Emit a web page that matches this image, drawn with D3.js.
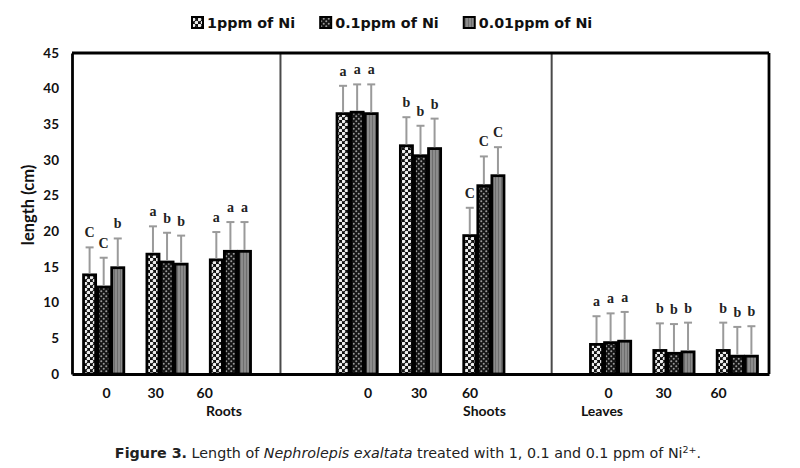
<!DOCTYPE html>
<html>
<head>
<meta charset="utf-8">
<script src="https://cdn.jsdelivr.net/npm/d3@7"></script>
<style>
  html, body { margin: 0; padding: 0; background: #fff; }
  svg { display: block; }
</style>
</head>
<body>
<svg id="chart" width="800" height="468"></svg>
<script>
// ---------- DATA ----------
const sections = ["Roots", "Shoots", "Leaves"];
const times = ["0", "30", "60"];
const seriesNames = ["1ppm of Ni", "0.1ppm of Ni", "0.01ppm of Ni"];
// order: Roots 0,30,60 | Shoots 0,30,60 | Leaves 0,30,60
const mean1 = [13.9, 16.8, 16.0, 36.5, 32.0, 19.4, 4.15, 3.3, 3.3];
const mean2 = [12.2, 15.7, 17.2, 36.7, 30.6, 26.4, 4.4, 2.9, 2.5];
const mean3 = [14.9, 15.4, 17.2, 36.5, 31.6, 27.8, 4.6, 3.1, 2.5];
const sd1 = [3.85, 3.9, 3.9, 3.9, 4.0, 3.9, 3.95, 3.8, 3.9];
const sd2 = [4.1, 4.1, 4.1, 3.9, 4.2, 4.1, 4.1, 4.1, 4.1];
const sd3 = [4.1, 4.0, 4.1, 4.1, 4.2, 4.0, 4.1, 4.1, 4.2];
const letters1 = ["C", "a", "a", "a", "b", "C", "a", "b", "b"];
const letters2 = ["C", "b", "a", "a", "b", "C", "a", "b", "b"];
const letters3 = ["b", "b", "a", "a", "b", "C", "a", "b", "b"];
const yTicks = [0, 5, 10, 15, 20, 25, 30, 35, 40, 45];
const yLabel = "length (cm)";

// ---------- LAYOUT ----------
const svg = d3.select("#chart");
const plot = { left: 72, right: 769, top: 53, bottom: 374 };

// slots: 3 times per section, with an empty slot between sections
const slots = [];
sections.forEach((s, si) => {
  times.forEach(t => slots.push(s + "|" + t));
  if (si < sections.length - 1) slots.push("gap" + si);
});

const x = d3.scaleBand().domain(slots).range([plot.left, plot.right]).padding(0);
const bw = x.bandwidth();
const xs = d3.scaleBand().domain(seriesNames).range([bw / 6, bw * 5 / 6]).padding(0);
const y = d3.scaleLinear().domain([0, 45]).range([plot.bottom, plot.top]);

// ---------- PATTERNS ----------
const defs = svg.append("defs");
const p1 = defs.append("pattern").attr("id", "pat1").attr("patternUnits", "userSpaceOnUse")
  .attr("width", 6).attr("height", 6);
p1.append("rect").attr("width", 6).attr("height", 6).attr("fill", "#111");
p1.append("circle").attr("cx", 1.5).attr("cy", 1.5).attr("r", 1.8).attr("fill", "#eeeeee");
p1.append("circle").attr("cx", 4.5).attr("cy", 4.5).attr("r", 1.8).attr("fill", "#eeeeee");

const p2 = defs.append("pattern").attr("id", "pat2").attr("patternUnits", "userSpaceOnUse")
  .attr("width", 5).attr("height", 5);
p2.append("rect").attr("width", 5).attr("height", 5).attr("fill", "#151515");
p2.append("circle").attr("cx", 1.25).attr("cy", 1.25).attr("r", 1.0).attr("fill", "#9a9a9a");
p2.append("circle").attr("cx", 3.75).attr("cy", 3.75).attr("r", 1.0).attr("fill", "#9a9a9a");

const p3 = defs.append("pattern").attr("id", "pat3").attr("patternUnits", "userSpaceOnUse")
  .attr("width", 3).attr("height", 3);
p3.append("rect").attr("width", 3).attr("height", 3).attr("fill", "#8c8c8c");
p3.append("rect").attr("x", 0).attr("width", 1).attr("height", 3).attr("fill", "#6e6e6e");

const fills = ["url(#pat1)", "url(#pat2)", "url(#pat3)"];
const means = [mean1, mean2, mean3];
const sds = [sd1, sd2, sd3];
const letters = [letters1, letters2, letters3];

// ---------- DATA ROWS ----------
const rows = [];
sections.forEach((s, si) => {
  times.forEach((t, ti) => {
    const idx = si * 3 + ti;
    seriesNames.forEach((n, k) => {
      rows.push({ slot: s + "|" + t, series: n, k: k, v: means[k][idx], sd: sds[k][idx], letter: letters[k][idx] });
    });
  });
});

// ---------- FRAME / DIVIDERS ----------
const dividerFrac = [0.29, 0.57];
["gap0", "gap1"].forEach((g, i) => {
  svg.append("line")
    .attr("x1", x(g) + bw * dividerFrac[i]).attr("x2", x(g) + bw * dividerFrac[i])
    .attr("y1", plot.top).attr("y2", plot.bottom)
    .attr("stroke", "#4a4a4a").attr("stroke-width", 2);
});

// ---------- BARS ----------
const barG = svg.append("g");
barG.selectAll("rect.bar").data(rows).join("rect")
  .attr("class", "bar")
  .attr("x", d => x(d.slot) + xs(d.series) + 1)
  .attr("width", xs.bandwidth() - 2)
  .attr("y", d => y(d.v))
  .attr("height", d => y(0) - y(d.v))
  .attr("fill", d => fills[d.k])
  .attr("stroke", "#000").attr("stroke-width", 2.8);

// ---------- ERROR BARS ----------
const eg = svg.append("g").attr("stroke", "#9a9a9a").attr("stroke-width", 2);
eg.selectAll("line.v").data(rows).join("line")
  .attr("class", "v")
  .attr("x1", d => x(d.slot) + xs(d.series) + xs.bandwidth() / 2)
  .attr("x2", d => x(d.slot) + xs(d.series) + xs.bandwidth() / 2)
  .attr("y1", d => y(d.v) - 1.4)
  .attr("y2", d => y(d.v + d.sd));
eg.selectAll("line.c").data(rows).join("line")
  .attr("class", "c")
  .attr("x1", d => x(d.slot) + xs(d.series) + xs.bandwidth() / 2 - 4)
  .attr("x2", d => x(d.slot) + xs(d.series) + xs.bandwidth() / 2 + 4)
  .attr("y1", d => y(d.v + d.sd))
  .attr("y2", d => y(d.v + d.sd));

// ---------- SIGNIFICANCE LETTERS ----------
svg.append("g").selectAll("text").data(rows).join("text")
  .attr("x", d => x(d.slot) + xs(d.series) + xs.bandwidth() / 2)
  .attr("y", d => y(d.v + d.sd) - 10)
  .attr("text-anchor", "middle")
  .attr("font-family", "Liberation Serif, DejaVu Serif, serif")
  .attr("font-weight", "bold")
  .attr("font-size", 14)
  .attr("fill", "#222")
  .text(d => d.letter);

// ---------- AXES FRAME ----------
const frame = svg.append("g").attr("stroke", "#000").attr("stroke-width", 2.8).attr("fill", "none");
frame.append("line").attr("x1", plot.left).attr("x2", plot.right).attr("y1", plot.top).attr("y2", plot.top);
frame.append("line").attr("x1", plot.right).attr("x2", plot.right).attr("y1", plot.top).attr("y2", plot.bottom);

// Y axis
const yAxis = svg.append("g").attr("transform", `translate(${plot.left},0)`)
  .call(d3.axisLeft(y).tickValues(yTicks).tickSize(0).tickPadding(13));
yAxis.select(".domain").attr("stroke", "#000").attr("stroke-width", 2.8);
yAxis.selectAll("text")
  .attr("font-family", "Lato, sans-serif").attr("font-weight", "bold")
  .attr("font-size", 13.5).attr("fill", "#111");

// X axis line
const xAxis = svg.append("g").attr("transform", `translate(0,${plot.bottom})`)
  .call(d3.axisBottom(x).tickValues([]).tickSize(0).tickSizeOuter(0));
xAxis.select(".domain").attr("stroke", "#000").attr("stroke-width", 2.8);

// X tick labels (time) per section and section names
const timeLabelOffset = [3, 11, -2];
const timeLabelStep = [49, 51, 55];
const sectionLabelOffset = [57, 64, -72];
sections.forEach((s, si) => {
  const c0 = x(s + "|" + times[0]) + bw / 2;
  times.forEach((t, ti) => {
    svg.append("text")
      .attr("x", c0 + timeLabelOffset[si] + ti * timeLabelStep[si])
      .attr("y", 398)
      .attr("text-anchor", "middle")
      .attr("font-family", "Lato, sans-serif").attr("font-weight", "bold")
      .attr("font-size", 14).attr("fill", "#111")
      .text(t);
  });
  const cm = x(s + "|" + times[1]) + bw / 2;
  svg.append("text")
    .attr("x", cm + sectionLabelOffset[si])
    .attr("y", 416)
    .attr("text-anchor", "middle")
    .attr("font-family", "Lato, sans-serif").attr("font-weight", "bold")
    .attr("font-size", 14).attr("fill", "#111")
    .text(s);
});

// Y label
svg.append("text")
  .attr("transform", `translate(34,205) rotate(-90)`)
  .attr("text-anchor", "middle")
  .attr("font-family", "Lato, sans-serif").attr("font-weight", "bold")
  .attr("font-size", 16.5).attr("fill", "#111")
  .text(yLabel);

// ---------- LEGEND ----------
const legend = svg.append("g");
let lx = 191;
seriesNames.forEach((n, k) => {
  legend.append("rect").attr("x", lx + 1).attr("y", 17).attr("width", 11).attr("height", 11)
    .attr("fill", fills[k]).attr("stroke", "#000").attr("stroke-width", 2);
  const t = legend.append("text").attr("x", lx + 16).attr("y", 28)
    .attr("font-family", "DejaVu Sans, sans-serif").attr("font-weight", "bold")
    .attr("font-size", 14.3).attr("fill", "#111").text(n);
  const w = t.node().getComputedTextLength();
  lx = lx + 16 + w + 24;
});

// ---------- CAPTION ----------
const cap = svg.append("text").attr("x", 408).attr("y", 458).attr("text-anchor", "middle")
  .attr("font-family", "DejaVu Sans, sans-serif").attr("font-size", 14.3).attr("fill", "#222");
cap.append("tspan").attr("font-weight", "bold").text("Figure 3.");
cap.append("tspan").text(" Length of ");
cap.append("tspan").attr("font-style", "italic").text("Nephrolepis exaltata");
cap.append("tspan").text(" treated with 1, 0.1 and 0.1 ppm of Ni");
cap.append("tspan").attr("font-size", 9.5).attr("dy", -5).text("2+");
cap.append("tspan").attr("dy", 5).text(".");
</script>
</body>
</html>
